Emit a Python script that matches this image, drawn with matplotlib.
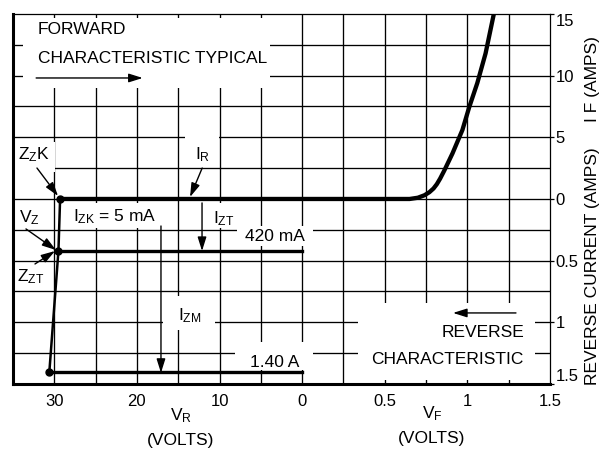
import numpy as np
import matplotlib.pyplot as plt
from matplotlib.patches import Rectangle

plt.rcParams['font.family'] = ['Liberation Sans', 'DejaVu Sans']
plt.rcParams['mathtext.default'] = 'regular'

# forward characteristic: VF (volts) vs IF (amps)
vf = [0.0, 0.65, 0.70, 0.74, 0.77, 0.795, 0.815, 0.835, 0.86, 0.91, 0.97, 1.01, 1.06, 1.11, 1.16]
i_f = [0.0, 0.0, 0.1, 0.3, 0.55, 0.85, 1.2, 1.65, 2.3, 3.7, 5.6, 7.4, 9.4, 11.8, 15.0]

# reverse breakdown: VR (volts) vs IR (amps) at ZZK, ZZT, IZM
vr_bd = [29.3, 29.5, 30.6]
ir_bd = [0.0, 0.42, 1.40]

izt = 0.42
izm = 1.40

x_ticks_vr = [30, 20, 10, 0]
x_ticks_vf = [0.5, 1, 1.5]
y_ticks_if = [15, 10, 5, 0]
y_ticks_ir = [0.5, 1, 1.5]


# one axes, two halves: left = -VR, right = VF*20; top = IF, bottom = -IR*10
def xr(v):
    return -np.asarray(v, float)


def xf(v):
    return np.asarray(v, float) * 20


def yf(i):
    return np.asarray(i, float)


def yr(i):
    return -np.asarray(i, float) * 10


fig = plt.figure(figsize=(6.05, 4.49), dpi=100)
ax = fig.add_axes([0.0215, 0.1448, 0.8876, 0.8241])
ax.set_xlim(-35, 30)
ax.set_ylim(-15, 15)

# grid
for gx in np.arange(-30, 30, 5):
    ax.axvline(gx, color='black', lw=0.95, zorder=1)
for gy in np.arange(-12.5, 15, 2.5):
    ax.axhline(gy, color='black', lw=0.95, zorder=1)

# white gaps behind labels
gaps = [(-33.8, 9.0, 29.9, 5.7),
        (-14.2, 3.0, 4.1, 2.4),
        (-35.0, 2.2, 5.1, 2.4),
        (-28.1, -2.35, 11.1, 2.0),
        (-11.8, -2.35, 4.3, 2.0),
        (-7.9, -3.8, 9.2, 1.6),
        (-16.8, -10.6, 6.2, 2.75),
        (-8.1, -13.85, 9.4, 2.25),
        (6.8, -14.7, 21.4, 6.3)]
for gx, gy, gw, gh in gaps:
    ax.add_patch(Rectangle((gx, gy), gw, gh, facecolor='white',
                           edgecolor='none', zorder=2))

# curves
ax.plot(np.concatenate([xr(vr_bd[:1]), xf(vf)]),
        np.concatenate([[0.0], yf(i_f)]),
        color='black', lw=3.1, solid_joinstyle='round', zorder=3)
ax.plot(xr(vr_bd), yr(ir_bd), color='black', lw=1.8, zorder=3)
ax.plot(xr([vr_bd[1], 0]), yr([izt, izt]), color='black', lw=2.4, zorder=3)
ax.plot(xr([vr_bd[2], 0]), yr([izm, izm]), color='black', lw=2.4, zorder=3)
ax.plot(xr(vr_bd), yr(ir_bd), 'o', color='black', ms=5, zorder=4)

fs = 12.5
kw = dict(fontsize=fs, zorder=5)
arr = dict(arrowstyle='-|>,head_length=0.7,head_width=0.22', color='black',
           lw=1.0, shrinkA=0, shrinkB=0, mutation_scale=12)


def arrow(tail, tip):
    ax.annotate('', xy=tip, xytext=tail, arrowprops=arr, zorder=5)


ax.text(-31.97, 13.7, 'FORWARD', ha='left', va='center', **kw)
ax.text(-31.97, 11.35, 'CHARACTERISTIC TYPICAL', ha='left', va='center', **kw)
arrow((-32.2, 9.81), (-19.3, 9.81))

ax.text(-32.46, 3.57, '$Z_ZK$', ha='center', va='center', **kw)
arrow((-32.1, 2.51), (-29.55, 0.24))
ax.text(-12.0, 3.57, '$I_R$', ha='center', va='center', **kw)
arrow((-12.1, 2.51), (-13.57, 0.16))

ax.text(-33.06, -1.55, '$V_Z$', ha='center', va='center', **kw)
arrow((-33.43, -2.43), (-29.8, -4.14))
ax.text(-27.74, -1.46, '$I_{ZK}$ = 5 mA', ha='left', va='center', **kw)
ax.text(-9.46, -1.6, '$I_{ZT}$', ha='center', va='center', **kw)
arrow((-12.12, -0.32), (-12.12, -4.22))
ax.text(-3.29, -3.08, '420 mA', ha='center', va='center', **kw)
ax.text(-32.82, -6.3, '$Z_{ZT}$', ha='center', va='center', **kw)
arrow((-32.34, -5.27), (-29.92, -4.22))

ax.text(-13.58, -9.5, '$I_{ZM}$', ha='center', va='center', **kw)
arrow((-17.09, -2.19), (-17.09, -14.1))
ax.text(-3.29, -13.22, '1.40 A', ha='center', va='center', **kw)

ax.text(26.85, -10.86, 'REVERSE', ha='right', va='center', **kw)
ax.text(26.85, -13.05, 'CHARACTERISTIC', ha='right', va='center', **kw)
arrow((25.88, -9.24), (18.26, -9.24))

# axis labels below
tr = ax.get_xaxis_transform()
ax.text(-14.66, -0.085, '$V_R$', transform=tr, ha='center', va='center', fontsize=fs)
ax.text(-14.66, -0.153, '(VOLTS)', transform=tr, ha='center', va='center', fontsize=fs)
ax.text(15.72, -0.08, '$V_F$', transform=tr, ha='center', va='center', fontsize=fs)
ax.text(15.72, -0.148, '(VOLTS)', transform=tr, ha='center', va='center', fontsize=fs)

# right side label
fig.text(592 / 605, 1 - 385 / 449, 'REVERSE CURRENT (AMPS)', rotation=90,
         ha='center', va='bottom', fontsize=fs)
fig.text(592 / 605, 1 - 36 / 449, 'I F (AMPS)', rotation=90,
         ha='center', va='top', fontsize=fs)

# ticks
xt = list(xr(x_ticks_vr)) + list(xf(x_ticks_vf))
xl = [f'{v:g}' for v in x_ticks_vr] + [f'{v:g}' for v in x_ticks_vf]
ax.set_xticks(xt)
ax.set_xticklabels(xl)
ax.tick_params(axis='x', length=0, pad=7, labelsize=12)

yt = list(yf(y_ticks_if)) + list(yr(y_ticks_ir))
yl = [f'{v:g}' for v in y_ticks_if] + [f'{v:g}' for v in y_ticks_ir]
ax.yaxis.tick_right()
ax.set_yticks(yt)
ax.set_yticklabels(yl)
ax.tick_params(axis='y', direction='out', length=3, width=0.9, pad=1, labelsize=12)
labels = ax.get_yticklabels()
labels[0].set_va('top')
labels[-1].set_va('bottom')

for side, w in (('left', 2.2), ('bottom', 2.2), ('top', 0.9), ('right', 0.9)):
    ax.spines[side].set_linewidth(w)
    ax.spines[side].set_zorder(6)

fig.savefig('out.png', dpi=100)
